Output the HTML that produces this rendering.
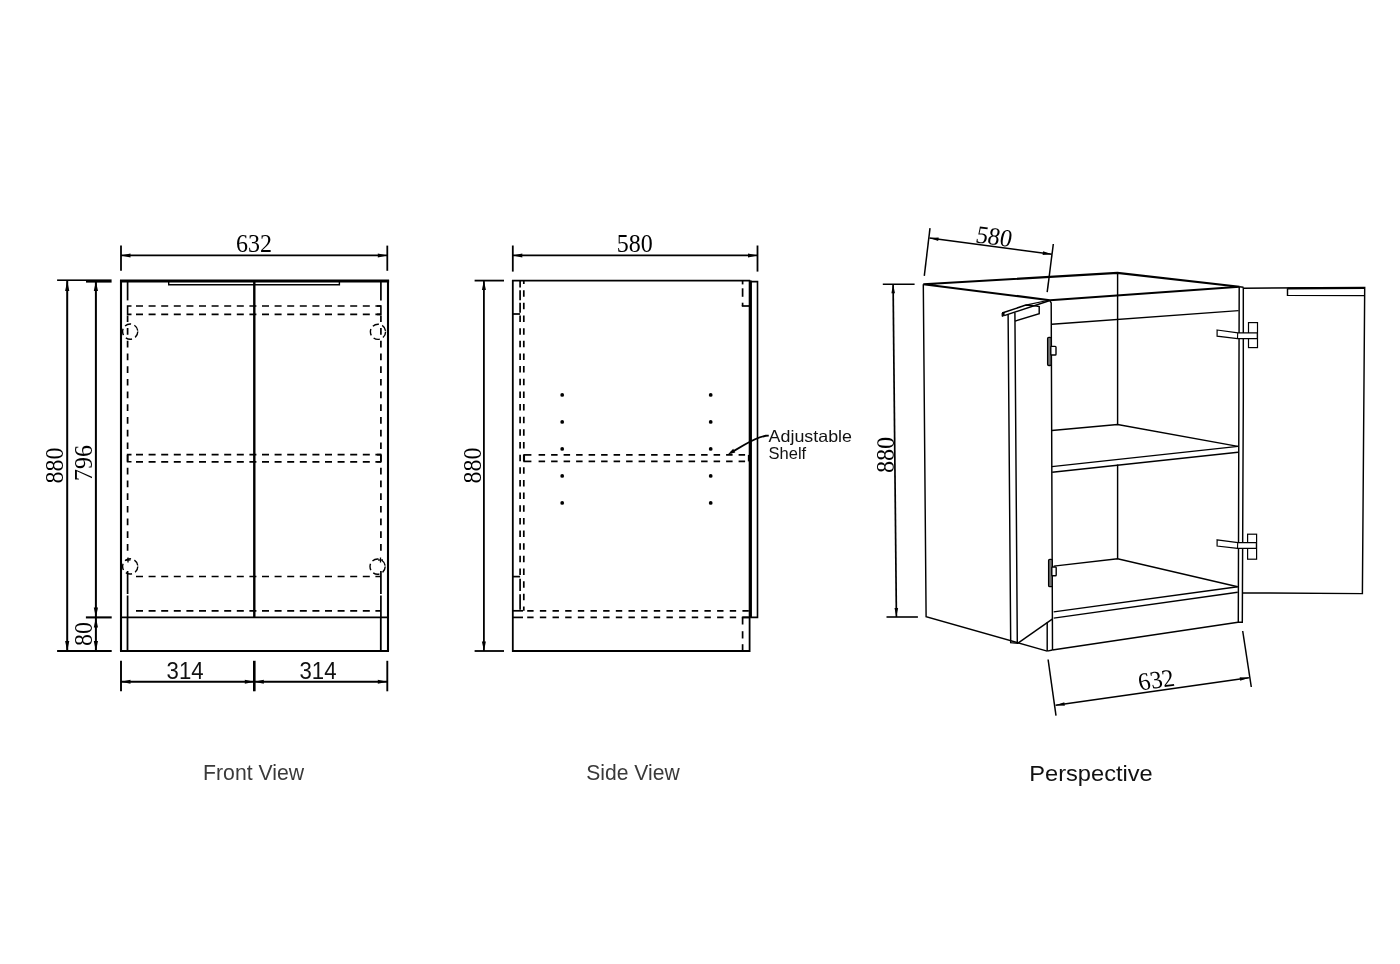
<!DOCTYPE html>
<html><head><meta charset="utf-8"><title>Cabinet drawing</title>
<style>
html,body{margin:0;padding:0;background:#fff;}
body{width:1400px;height:964px;overflow:hidden;font-family:"Liberation Sans",sans-serif;}
svg{display:block;}
svg{filter:grayscale(1);}
</style></head><body>
<svg width="1400" height="964" viewBox="0 0 1400 964">
<rect width="1400" height="964" fill="#fff"/>
<line x1="121.0" y1="245.6" x2="121.0" y2="270.8" stroke="#000" stroke-width="1.8" stroke-linecap="butt"/>
<line x1="387.3" y1="245.6" x2="387.3" y2="270.8" stroke="#000" stroke-width="1.8" stroke-linecap="butt"/>
<line x1="121.0" y1="255.4" x2="387.3" y2="255.4" stroke="#000" stroke-width="1.9" stroke-linecap="butt"/>
<polygon points="121.0,255.4 130.5,253.4 130.5,257.4" fill="#000"/>
<polygon points="387.3,255.4 377.8,257.4 377.8,253.4" fill="#000"/>
<text class="t" x="254.1" y="251.5" font-family="Liberation Serif" font-size="25" text-anchor="middle" fill="#000" letter-spacing="0" textLength="36" lengthAdjust="spacingAndGlyphs">632</text>
<polyline points="121.0,651.0 121.0,281.0 388.0,281.0 388.0,651.0" fill="none" stroke="#000" stroke-width="2.1" stroke-linejoin="miter"/>
<line x1="120.0" y1="281.0" x2="389.1" y2="281.0" stroke="#000" stroke-width="3.0" stroke-linecap="butt"/>
<line x1="120.0" y1="651.0" x2="389.0" y2="651.0" stroke="#000" stroke-width="2.1" stroke-linecap="butt"/>
<line x1="121.0" y1="617.4" x2="388.0" y2="617.4" stroke="#000" stroke-width="1.9" stroke-linecap="butt"/>
<line x1="254.3" y1="281.0" x2="254.3" y2="617.4" stroke="#000" stroke-width="2.4" stroke-linecap="butt"/>
<polyline points="168.7,281.0 168.7,284.8 339.4,284.8 339.4,281.0" fill="none" stroke="#000" stroke-width="1.4" stroke-linejoin="miter"/>
<line x1="127.5" y1="617.4" x2="127.5" y2="651.0" stroke="#000" stroke-width="1.8" stroke-linecap="butt"/>
<line x1="380.8" y1="617.4" x2="380.8" y2="651.0" stroke="#000" stroke-width="1.8" stroke-linecap="butt"/>
<line x1="127.6" y1="282.0" x2="127.6" y2="300.4" stroke="#000" stroke-width="1.7" stroke-linecap="butt"/>
<line x1="127.6" y1="315.4" x2="127.6" y2="556.5" stroke="#000" stroke-width="1.7" stroke-dasharray="6.7 6" stroke-linecap="butt"/>
<line x1="127.6" y1="571.0" x2="127.6" y2="617.4" stroke="#000" stroke-width="1.7" stroke-dasharray="23 1.5" stroke-linecap="butt"/>
<line x1="380.9" y1="282.0" x2="380.9" y2="300.4" stroke="#000" stroke-width="1.7" stroke-linecap="butt"/>
<line x1="380.9" y1="315.4" x2="380.9" y2="556.5" stroke="#000" stroke-width="1.7" stroke-dasharray="6.7 6" stroke-linecap="butt"/>
<line x1="380.9" y1="571.0" x2="380.9" y2="617.4" stroke="#000" stroke-width="1.7" stroke-dasharray="23 1.5" stroke-linecap="butt"/>
<line x1="136.0" y1="306.0" x2="381.0" y2="306.0" stroke="#000" stroke-width="1.7" stroke-dasharray="7 5.6" stroke-linecap="butt"/>
<line x1="136.0" y1="314.4" x2="381.0" y2="314.4" stroke="#000" stroke-width="1.7" stroke-dasharray="7 5.6" stroke-linecap="butt"/>
<line x1="136.0" y1="454.6" x2="381.0" y2="454.6" stroke="#000" stroke-width="1.7" stroke-dasharray="7 5.6" stroke-linecap="butt"/>
<line x1="136.0" y1="461.8" x2="381.0" y2="461.8" stroke="#000" stroke-width="1.7" stroke-dasharray="7 5.6" stroke-linecap="butt"/>
<line x1="136.0" y1="576.5" x2="381.0" y2="576.5" stroke="#000" stroke-width="1.7" stroke-dasharray="7 5.6" stroke-linecap="butt"/>
<line x1="136.0" y1="610.8" x2="381.0" y2="610.8" stroke="#000" stroke-width="1.7" stroke-dasharray="7 5.6" stroke-linecap="butt"/>
<polyline points="131.5,306.0 127.6,306.0 127.6,314.4 131.5,314.4" fill="none" stroke="#000" stroke-width="1.6" stroke-linejoin="miter"/>
<polyline points="377.0,306.0 380.9,306.0 380.9,314.4 377.0,314.4" fill="none" stroke="#000" stroke-width="1.6" stroke-linejoin="miter"/>
<polyline points="131.5,454.6 127.6,454.6 127.6,461.8 131.5,461.8" fill="none" stroke="#000" stroke-width="1.6" stroke-linejoin="miter"/>
<polyline points="377.0,454.6 380.9,454.6 380.9,461.8 377.0,461.8" fill="none" stroke="#000" stroke-width="1.6" stroke-linejoin="miter"/>
<circle cx="130.2" cy="331.6" r="7.6" fill="none" stroke="#000" stroke-width="1.4" stroke-dasharray="6.5 3.5"/>
<circle cx="378.0" cy="331.8" r="7.6" fill="none" stroke="#000" stroke-width="1.4" stroke-dasharray="6.5 3.5"/>
<circle cx="130.2" cy="566.4" r="7.6" fill="none" stroke="#000" stroke-width="1.4" stroke-dasharray="6.5 3.5"/>
<circle cx="377.6" cy="566.6" r="7.6" fill="none" stroke="#000" stroke-width="1.4" stroke-dasharray="6.5 3.5"/>
<line x1="125.5" y1="560.0" x2="130.5" y2="560.0" stroke="#000" stroke-width="1.3" stroke-linecap="butt"/>
<line x1="128.0" y1="557.5" x2="128.0" y2="562.5" stroke="#000" stroke-width="1.3" stroke-linecap="butt"/>
<line x1="378.0" y1="560.0" x2="383.0" y2="560.0" stroke="#000" stroke-width="1.3" stroke-linecap="butt"/>
<line x1="380.5" y1="557.5" x2="380.5" y2="562.5" stroke="#000" stroke-width="1.3" stroke-linecap="butt"/>
<line x1="57.1" y1="280.2" x2="86.0" y2="280.2" stroke="#000" stroke-width="1.6" stroke-linecap="butt"/>
<line x1="86.0" y1="281.0" x2="111.6" y2="281.0" stroke="#000" stroke-width="3.2" stroke-linecap="butt"/>
<line x1="57.1" y1="651.0" x2="111.7" y2="651.0" stroke="#000" stroke-width="2.2" stroke-linecap="butt"/>
<line x1="85.9" y1="617.4" x2="111.7" y2="617.4" stroke="#000" stroke-width="2.1" stroke-linecap="butt"/>
<line x1="67.2" y1="281.0" x2="67.2" y2="651.0" stroke="#000" stroke-width="2.0" stroke-linecap="butt"/>
<polygon points="67.2,281.0 69.3,291.0 65.1,291.0" fill="#000"/>
<polygon points="67.2,651.0 65.1,641.0 69.3,641.0" fill="#000"/>
<line x1="95.9" y1="281.0" x2="95.9" y2="617.4" stroke="#000" stroke-width="2.0" stroke-linecap="butt"/>
<polygon points="95.9,281.0 98.0,291.0 93.8,291.0" fill="#000"/>
<polygon points="95.9,617.4 93.8,607.4 98.0,607.4" fill="#000"/>
<line x1="95.9" y1="617.4" x2="95.9" y2="651.0" stroke="#000" stroke-width="2.0" stroke-linecap="butt"/>
<polygon points="95.9,617.4 98.0,627.4 93.8,627.4" fill="#000"/>
<polygon points="95.9,651.0 93.8,641.0 98.0,641.0" fill="#000"/>
<text class="t" x="0.0" y="0.0" font-family="Liberation Serif" font-size="25" text-anchor="middle" fill="#000" letter-spacing="0" textLength="36" lengthAdjust="spacingAndGlyphs" transform="translate(63.4,465.5) rotate(-90)">880</text>
<text class="t" x="0.0" y="0.0" font-family="Liberation Serif" font-size="25" text-anchor="middle" fill="#000" letter-spacing="0" textLength="36" lengthAdjust="spacingAndGlyphs" transform="translate(92.3,462.9) rotate(-90)">796</text>
<text class="t" x="0.0" y="0.0" font-family="Liberation Serif" font-size="25" text-anchor="middle" fill="#000" letter-spacing="0" textLength="24" lengthAdjust="spacingAndGlyphs" transform="translate(92.3,634) rotate(-90)">80</text>
<line x1="121.0" y1="660.8" x2="121.0" y2="691.3" stroke="#000" stroke-width="1.9" stroke-linecap="butt"/>
<line x1="254.3" y1="660.8" x2="254.3" y2="691.3" stroke="#000" stroke-width="2.6" stroke-linecap="butt"/>
<line x1="387.3" y1="660.8" x2="387.3" y2="691.3" stroke="#000" stroke-width="1.9" stroke-linecap="butt"/>
<line x1="121.0" y1="681.7" x2="254.3" y2="681.7" stroke="#000" stroke-width="1.9" stroke-linecap="butt"/>
<polygon points="121.0,681.7 130.5,679.7 130.5,683.7" fill="#000"/>
<polygon points="254.3,681.7 244.8,683.7 244.8,679.7" fill="#000"/>
<line x1="254.3" y1="681.7" x2="387.3" y2="681.7" stroke="#000" stroke-width="1.9" stroke-linecap="butt"/>
<polygon points="254.3,681.7 263.8,679.7 263.8,683.7" fill="#000"/>
<polygon points="387.3,681.7 377.8,683.7 377.8,679.7" fill="#000"/>
<text class="t" x="185.1" y="678.8" font-family="Liberation Sans" font-size="23" text-anchor="middle" fill="#111" letter-spacing="0" textLength="37" lengthAdjust="spacingAndGlyphs">314</text>
<text class="t" x="318.0" y="678.8" font-family="Liberation Sans" font-size="23" text-anchor="middle" fill="#111" letter-spacing="0" textLength="37" lengthAdjust="spacingAndGlyphs">314</text>
<line x1="512.8" y1="245.5" x2="512.8" y2="271.6" stroke="#000" stroke-width="1.8" stroke-linecap="butt"/>
<line x1="757.5" y1="245.5" x2="757.5" y2="271.6" stroke="#000" stroke-width="1.8" stroke-linecap="butt"/>
<line x1="512.8" y1="255.4" x2="757.5" y2="255.4" stroke="#000" stroke-width="1.9" stroke-linecap="butt"/>
<polygon points="512.8,255.4 522.3,253.4 522.3,257.4" fill="#000"/>
<polygon points="757.5,255.4 748.0,257.4 748.0,253.4" fill="#000"/>
<text class="t" x="634.8" y="251.5" font-family="Liberation Serif" font-size="25" text-anchor="middle" fill="#000" letter-spacing="0" textLength="36" lengthAdjust="spacingAndGlyphs">580</text>
<polygon points="512.8,280.6 750.2,280.6 749.6,280.6 749.6,651.0 512.8,651.0" fill="none" stroke="#000" stroke-width="1.8" stroke-linejoin="miter"/>
<polygon points="751.0,281.6 757.5,281.6 757.5,617.4 751.0,617.4" fill="none" stroke="#000" stroke-width="1.6" stroke-linejoin="miter"/>
<line x1="750.4" y1="280.6" x2="750.4" y2="617.4" stroke="#000" stroke-width="2.6" stroke-linecap="butt"/>
<line x1="523.8" y1="280.6" x2="523.8" y2="610.8" stroke="#000" stroke-width="1.7" stroke-dasharray="6.5 6.15" stroke-dashoffset="3.05" stroke-linecap="butt"/>
<line x1="520.1" y1="314.0" x2="520.1" y2="576.6" stroke="#000" stroke-width="1.7" stroke-dasharray="6.5 6.15" stroke-dashoffset="11.149999999999988" stroke-linecap="butt"/>
<line x1="512.8" y1="314.0" x2="520.1" y2="314.0" stroke="#000" stroke-width="1.7" stroke-linecap="butt"/>
<line x1="520.1" y1="280.6" x2="520.1" y2="314.0" stroke="#000" stroke-width="1.7" stroke-dasharray="10 2.65" stroke-dashoffset="3.05" stroke-linecap="butt"/>
<line x1="512.8" y1="576.6" x2="520.1" y2="576.6" stroke="#000" stroke-width="1.7" stroke-linecap="butt"/>
<line x1="520.1" y1="578.7" x2="520.1" y2="591.1" stroke="#000" stroke-width="1.7" stroke-linecap="butt"/>
<line x1="520.1" y1="594.2" x2="520.1" y2="609.8" stroke="#000" stroke-width="1.7" stroke-linecap="butt"/>
<line x1="742.6" y1="280.6" x2="742.6" y2="284.4" stroke="#000" stroke-width="1.7" stroke-linecap="butt"/>
<line x1="742.6" y1="288.3" x2="742.6" y2="296.8" stroke="#000" stroke-width="1.7" stroke-linecap="butt"/>
<line x1="742.6" y1="302.7" x2="742.6" y2="306.0" stroke="#000" stroke-width="1.7" stroke-linecap="butt"/>
<line x1="741.8" y1="306.0" x2="749.6" y2="306.0" stroke="#000" stroke-width="1.7" stroke-linecap="butt"/>
<line x1="512.8" y1="610.8" x2="523.0" y2="610.8" stroke="#000" stroke-width="1.7" stroke-linecap="butt"/>
<line x1="527.2" y1="610.8" x2="749.6" y2="610.8" stroke="#000" stroke-width="1.7" stroke-dasharray="6.4 6.26" stroke-linecap="butt"/>
<line x1="512.8" y1="617.4" x2="523.0" y2="617.4" stroke="#000" stroke-width="1.7" stroke-linecap="butt"/>
<line x1="527.2" y1="617.4" x2="749.6" y2="617.4" stroke="#000" stroke-width="1.7" stroke-dasharray="6.4 6.26" stroke-linecap="butt"/>
<line x1="741.8" y1="617.4" x2="749.6" y2="617.4" stroke="#000" stroke-width="1.7" stroke-linecap="butt"/>
<line x1="742.6" y1="617.4" x2="742.6" y2="624.5" stroke="#000" stroke-width="1.7" stroke-linecap="butt"/>
<line x1="742.6" y1="631.2" x2="742.6" y2="638.5" stroke="#000" stroke-width="1.7" stroke-linecap="butt"/>
<line x1="742.6" y1="644.2" x2="742.6" y2="651.0" stroke="#000" stroke-width="1.7" stroke-linecap="butt"/>
<line x1="523.4" y1="454.9" x2="531.4" y2="454.9" stroke="#000" stroke-width="1.7" stroke-linecap="butt"/>
<line x1="538.6" y1="454.9" x2="749.3" y2="454.9" stroke="#000" stroke-width="1.7" stroke-dasharray="6.5 6" stroke-linecap="butt"/>
<line x1="523.4" y1="461.4" x2="531.4" y2="461.4" stroke="#000" stroke-width="1.7" stroke-linecap="butt"/>
<line x1="538.6" y1="461.4" x2="749.3" y2="461.4" stroke="#000" stroke-width="1.7" stroke-dasharray="6.5 6" stroke-linecap="butt"/>
<line x1="524.2" y1="454.9" x2="524.2" y2="461.4" stroke="#000" stroke-width="1.7" stroke-linecap="butt"/>
<line x1="748.7" y1="454.9" x2="748.7" y2="461.4" stroke="#000" stroke-width="1.7" stroke-linecap="butt"/>
<circle cx="562.2" cy="394.9" r="1.9" fill="#000"/>
<circle cx="562.2" cy="421.9" r="1.9" fill="#000"/>
<circle cx="562.2" cy="448.9" r="1.9" fill="#000"/>
<circle cx="562.2" cy="475.9" r="1.9" fill="#000"/>
<circle cx="562.2" cy="502.9" r="1.9" fill="#000"/>
<circle cx="710.7" cy="394.9" r="1.9" fill="#000"/>
<circle cx="710.7" cy="421.9" r="1.9" fill="#000"/>
<circle cx="710.7" cy="448.9" r="1.9" fill="#000"/>
<circle cx="710.7" cy="475.9" r="1.9" fill="#000"/>
<circle cx="710.7" cy="502.9" r="1.9" fill="#000"/>
<path d="M768.8,435.6 L765.8,435.7 Q757,437.5 744,445 L731,452.6" fill="none" stroke="#000" stroke-width="1.9"/>
<polygon points="727.8,454.4 733.2,448.8 735.3,452.4" fill="#000"/>
<text class="t" x="768.6" y="442.0" font-family="Liberation Sans" font-size="16.5" text-anchor="start" fill="#111" letter-spacing="0" textLength="83.4" lengthAdjust="spacingAndGlyphs">Adjustable</text>
<text class="t" x="768.6" y="459.4" font-family="Liberation Sans" font-size="16.5" text-anchor="start" fill="#111" letter-spacing="0">Shelf</text>
<line x1="474.6" y1="280.6" x2="504.0" y2="280.6" stroke="#000" stroke-width="1.8" stroke-linecap="butt"/>
<line x1="474.6" y1="651.0" x2="504.0" y2="651.0" stroke="#000" stroke-width="1.8" stroke-linecap="butt"/>
<line x1="483.9" y1="280.6" x2="483.9" y2="651.0" stroke="#000" stroke-width="1.8" stroke-linecap="butt"/>
<polygon points="483.9,280.6 485.9,290.1 481.9,290.1" fill="#000"/>
<polygon points="483.9,651.0 481.9,641.5 485.9,641.5" fill="#000"/>
<text class="t" x="0.0" y="0.0" font-family="Liberation Serif" font-size="25" text-anchor="middle" fill="#000" letter-spacing="0" textLength="36" lengthAdjust="spacingAndGlyphs" transform="translate(480.5,465.5) rotate(-90)">880</text>
<text class="t" x="253.6" y="780.3" font-family="Liberation Sans" font-size="21.2" text-anchor="middle" fill="#3a3a3a" letter-spacing="0" textLength="101" lengthAdjust="spacingAndGlyphs">Front View</text>
<text class="t" x="633.0" y="780.3" font-family="Liberation Sans" font-size="21.2" text-anchor="middle" fill="#3a3a3a" letter-spacing="0" textLength="93.5" lengthAdjust="spacingAndGlyphs">Side View</text>
<text class="t" x="1091.0" y="781.4" font-family="Liberation Sans" font-size="22.3" text-anchor="middle" fill="#111" letter-spacing="0" textLength="123.5" lengthAdjust="spacingAndGlyphs">Perspective</text>
<polyline points="1050.0,300.2 923.3,284.3 1117.4,272.9 1239.5,286.7 1050.0,300.2" fill="none" stroke="#000" stroke-width="2.1" stroke-linejoin="miter"/>
<polyline points="923.3,284.3 926.1,616.6 1047.2,651.1" fill="none" stroke="#000" stroke-width="1.45" stroke-linejoin="miter"/>
<polyline points="1049.6,300.3 1051.2,303.0 1052.5,650.0" fill="none" stroke="#000" stroke-width="1.45" stroke-linejoin="miter"/>
<line x1="1047.2" y1="622.2" x2="1047.2" y2="651.1" stroke="#000" stroke-width="1.45" stroke-linecap="butt"/>
<polyline points="1047.2,651.1 1052.4,650.0" fill="none" stroke="#000" stroke-width="1.45" stroke-linejoin="miter"/>
<line x1="1052.4" y1="650.0" x2="1238.0" y2="622.2" stroke="#000" stroke-width="1.45" stroke-linecap="butt"/>
<line x1="1117.6" y1="273.0" x2="1117.6" y2="424.6" stroke="#000" stroke-width="1.45" stroke-linecap="butt"/>
<line x1="1117.6" y1="464.5" x2="1117.6" y2="558.7" stroke="#000" stroke-width="1.45" stroke-linecap="butt"/>
<line x1="1051.8" y1="324.3" x2="1238.6" y2="310.6" stroke="#000" stroke-width="1.45" stroke-linecap="butt"/>
<polyline points="1239.2,286.7 1238.3,622.2 1242.3,622.2 1243.3,400.0 1243.3,287.5" fill="none" stroke="#000" stroke-width="1.45" stroke-linejoin="miter"/>
<line x1="1239.3" y1="286.7" x2="1243.5" y2="287.2" stroke="#000" stroke-width="1.45" stroke-linecap="butt"/>
<polyline points="1051.8,430.5 1117.6,424.6 1238.0,446.4" fill="none" stroke="#000" stroke-width="1.45" stroke-linejoin="miter"/>
<line x1="1051.8" y1="466.6" x2="1238.0" y2="446.4" stroke="#000" stroke-width="1.45" stroke-linecap="butt"/>
<line x1="1052.2" y1="472.2" x2="1238.0" y2="452.2" stroke="#000" stroke-width="1.45" stroke-linecap="butt"/>
<polyline points="1053.7,566.1 1117.6,558.7 1237.7,586.7" fill="none" stroke="#000" stroke-width="1.45" stroke-linejoin="miter"/>
<line x1="1053.7" y1="611.9" x2="1237.7" y2="586.7" stroke="#000" stroke-width="1.45" stroke-linecap="butt"/>
<line x1="1053.7" y1="618.1" x2="1237.7" y2="592.3" stroke="#000" stroke-width="1.45" stroke-linecap="butt"/>
<polyline points="1243.3,288.2 1364.7,287.6 1362.4,593.6 1242.3,592.9" fill="none" stroke="#000" stroke-width="1.45" stroke-linejoin="miter"/>
<polyline points="1287.5,288.2 1287.5,295.4 1364.6,295.6" fill="none" stroke="#000" stroke-width="1.45" stroke-linejoin="miter"/>
<line x1="1287.5" y1="288.4" x2="1364.7" y2="288.0" stroke="#000" stroke-width="2.0" stroke-linecap="butt"/>
<rect x="1248.5" y="322.6" width="9.0" height="25.0" fill="#fff" stroke="#000" stroke-width="1.2"/>
<polygon points="1217.1,330.0 1238.0,332.9 1257.3,332.9 1257.3,338.6 1237.5,338.6 1217.1,336.2" fill="#fff" stroke="#000" stroke-width="1.2" stroke-linejoin="miter"/>
<line x1="1237.7" y1="332.9" x2="1237.5" y2="338.6" stroke="#000" stroke-width="1.1" stroke-linecap="butt"/>
<rect x="1247.6" y="534.2" width="9.0" height="25.0" fill="#fff" stroke="#000" stroke-width="1.2"/>
<polygon points="1217.1,539.8 1238.0,542.7 1256.4,542.7 1256.4,548.4 1237.5,548.4 1217.1,546.0" fill="#fff" stroke="#000" stroke-width="1.2" stroke-linejoin="miter"/>
<line x1="1237.7" y1="542.7" x2="1237.5" y2="548.4" stroke="#000" stroke-width="1.1" stroke-linecap="butt"/>
<polyline points="1008.1,314.2 1010.7,642.7 1017.3,643.3 1014.9,312.4" fill="none" stroke="#000" stroke-width="1.45" stroke-linejoin="miter"/>
<line x1="1017.6" y1="643.3" x2="1052.6" y2="618.9" stroke="#000" stroke-width="1.45" stroke-linecap="butt"/>
<polyline points="1002.1,313.0 1025.8,305.1 1036.4,306.0 1039.2,306.5 1039.2,313.6 1014.9,321.1" fill="none" stroke="#000" stroke-width="1.45" stroke-linejoin="miter"/>
<line x1="1004.2" y1="315.6" x2="1049.2" y2="300.8" stroke="#000" stroke-width="1.45" stroke-linecap="butt"/>
<line x1="1025.8" y1="305.1" x2="1048.6" y2="300.2" stroke="#000" stroke-width="1.1" stroke-linecap="butt"/>
<polygon points="1002.1,313.0 1002.1,316.4 1004.2,315.6 1004.0,312.6" fill="#000" stroke="#000" stroke-width="1.0" stroke-linejoin="miter"/>
<rect x="1047.6" y="337.3" width="3.6" height="28.2" rx="1.2" fill="#777" stroke="#000" stroke-width="1.3"/>
<rect x="1050.8" y="346.4" width="5.2" height="8.6" rx="0.8" fill="#fff" stroke="#000" stroke-width="1.4"/>
<rect x="1048.6" y="559.3" width="3.7" height="27.3" rx="1.2" fill="#777" stroke="#000" stroke-width="1.3"/>
<rect x="1051.8" y="567.0" width="4.4" height="8.8" rx="0.8" fill="#fff" stroke="#000" stroke-width="1.4"/>
<line x1="930.0" y1="228.1" x2="924.3" y2="275.9" stroke="#000" stroke-width="1.5" stroke-linecap="butt"/>
<line x1="1053.3" y1="244.0" x2="1047.2" y2="292.2" stroke="#000" stroke-width="1.5" stroke-linecap="butt"/>
<line x1="929.5" y1="238.0" x2="1051.8" y2="254.3" stroke="#000" stroke-width="1.6" stroke-linecap="butt"/>
<polygon points="929.5,238.0 938.7,237.4 938.2,241.0" fill="#000"/>
<polygon points="1051.8,254.3 1042.6,254.9 1043.1,251.3" fill="#000"/>
<text class="t" x="0.0" y="0.0" font-family="Liberation Serif" font-size="25" text-anchor="middle" fill="#000" letter-spacing="0" textLength="36" lengthAdjust="spacingAndGlyphs" transform="translate(992.5,244.6) rotate(7.6) skewX(-4)">580</text>
<line x1="882.8" y1="284.3" x2="914.6" y2="284.3" stroke="#000" stroke-width="1.6" stroke-linecap="butt"/>
<line x1="886.5" y1="617.0" x2="917.9" y2="617.0" stroke="#000" stroke-width="1.6" stroke-linecap="butt"/>
<line x1="893.1" y1="284.3" x2="896.4" y2="617.0" stroke="#000" stroke-width="1.7" stroke-linecap="butt"/>
<polygon points="893.1,284.3 895.0,293.3 891.4,293.3" fill="#000"/>
<polygon points="896.4,617.0 894.5,608.0 898.1,608.0" fill="#000"/>
<text class="t" x="0.0" y="0.0" font-family="Liberation Serif" font-size="25" text-anchor="middle" fill="#000" letter-spacing="0" textLength="36" lengthAdjust="spacingAndGlyphs" transform="translate(893.6,454.9) rotate(-89.4)">880</text>
<line x1="1048.1" y1="659.5" x2="1056.0" y2="715.6" stroke="#000" stroke-width="1.5" stroke-linecap="butt"/>
<line x1="1242.7" y1="631.0" x2="1251.3" y2="687.0" stroke="#000" stroke-width="1.5" stroke-linecap="butt"/>
<line x1="1055.6" y1="705.3" x2="1248.9" y2="677.8" stroke="#000" stroke-width="1.6" stroke-linecap="butt"/>
<polygon points="1055.6,705.3 1064.3,702.3 1064.8,705.8" fill="#000"/>
<polygon points="1248.9,677.8 1240.2,680.8 1239.7,677.3" fill="#000"/>
<text class="t" x="0.0" y="0.0" font-family="Liberation Serif" font-size="25" text-anchor="middle" fill="#000" letter-spacing="0" textLength="36" lengthAdjust="spacingAndGlyphs" transform="translate(1157.9,688.0) rotate(-8.1) skewX(4)">632</text>
</svg>
</body></html>
